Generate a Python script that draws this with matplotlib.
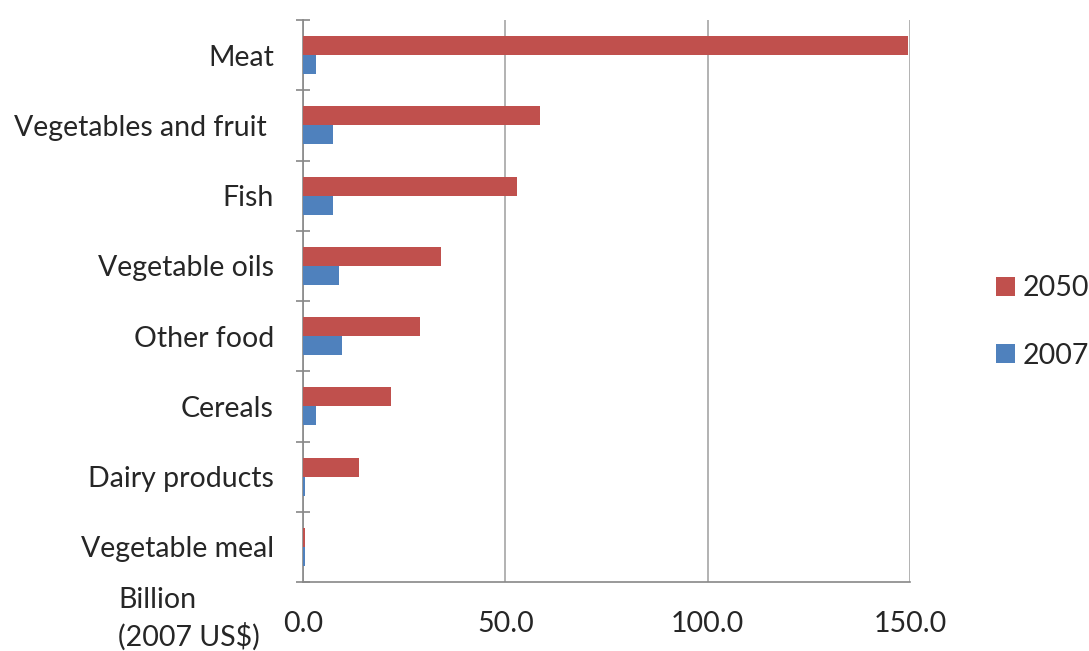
import numpy as np
import matplotlib.pyplot as plt

plt.rcParams['font.family'] = ['Lato', 'DejaVu Sans']

# data (billion 2007 US$)
categories = ["Meat", "Vegetables and fruit ", "Fish", "Vegetable oils",
              "Other food", "Cereals", "Dairy products", "Vegetable meal"]
v2050 = [149.5, 58.6, 53.0, 34.0, 29.0, 21.7, 13.8, 0.5]
v2007 = [3.2, 7.5, 7.5, 8.9, 9.6, 3.2, 0.6, 0.6]
xticks = [0, 50, 100, 150]

red = "#C0504D"
blue = "#4F81BD"
txt = "#262626"
fs = 20.5

fig = plt.figure(figsize=(10.89, 6.51), dpi=100)
ax = fig.add_axes([303/1089, 1 - 582/651, (910-303)/1089, (582-20)/651])

y = np.arange(len(categories))
h = 0.27
ax.barh(y - h/2, v2050, height=h, color=red, label="2050", zorder=3)
ax.barh(y + h/2, v2007, height=h, color=blue, label="2007", zorder=3)

ax.set_ylim(len(categories) - 0.5, -0.5)
ax.set_xlim(0, 150)

# category labels between the boundary ticks
ax.set_yticks(np.arange(len(categories) + 1) - 0.5)
ax.set_yticklabels([])
ax.set_yticks(y, minor=True)
ax.set_yticklabels(categories, minor=True, fontsize=fs, color=txt)
ax.tick_params(axis='y', which='minor', length=0, pad=21)
ax.tick_params(axis='y', which='major', length=10, width=1.2, color="#888888",
               direction='inout')

ax.set_xticks(xticks)
ax.set_xticklabels([f"{t:.1f}" for t in xticks], fontsize=fs, color=txt)
ax.tick_params(axis='x', length=0, pad=21)

ax.grid(axis='x', color="#a6a6a6", lw=1.2, zorder=0)
for s in ["top", "right"]:
    ax.spines[s].set_visible(False)
ax.spines["left"].set_color("#888888")
ax.spines["bottom"].set_color("#888888")
ax.spines["left"].set_linewidth(1.2)
ax.spines["bottom"].set_linewidth(1.2)

fig.text(118/1089, 1 - 619/651, "Billion\n(2007 US\\$)", fontsize=fs,
         color=txt, ha='left', va='center', linespacing=1.4)

leg = fig.legend(loc='center left', bbox_to_anchor=(996/1089, 1 - 322/651),
                 frameon=False, fontsize=fs, handlelength=0.65, handleheight=0.65,
                 handletextpad=0.3, labelspacing=1.45, borderpad=0, borderaxespad=0)
for t in leg.get_texts():
    t.set_color(txt)

fig.savefig("out.png", dpi=100)
